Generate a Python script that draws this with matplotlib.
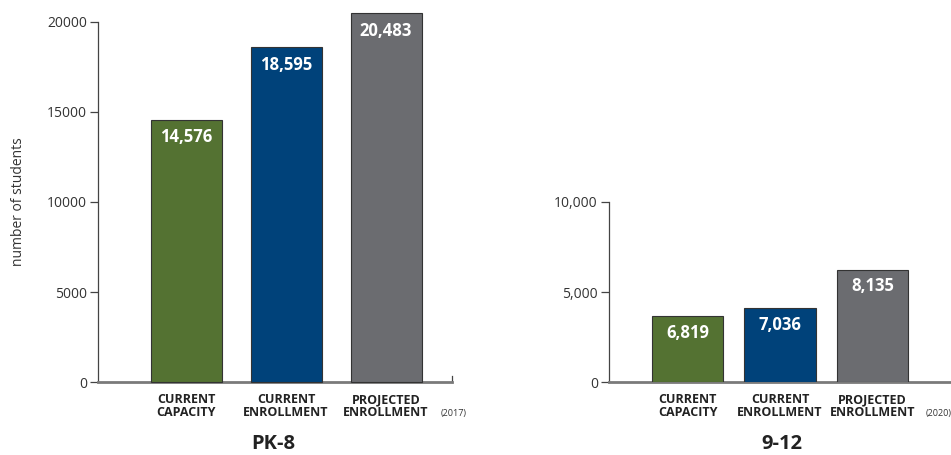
import matplotlib
matplotlib.use("Agg")
import matplotlib.pyplot as plt

# ---- data ----
categories = ["CURRENT\nCAPACITY", "CURRENT\nENROLLMENT", "PROJECTED\nENROLLMENT"]
pk8_values = [14576, 18595, 20483]
pk8_year = "(2017)"
hs_heights = [3650, 4100, 6250]          # bar heights as drawn in the picture
hs_labels = ["6,819", "7,036", "8,135"]  # printed values
hs_year = "(2020)"
pk8_ticks = [0, 5000, 10000, 15000, 20000]
pk8_ticklabels = ["0", "5000", "10000", "15000", "20000"]
hs_ticks = [0, 5000, 10000]
hs_ticklabels = ["0", "5,000", "10,000"]
colors = ["#547232", "#00427a", "#6b6c70"]

plt.rcParams['font.family'] = ['Open Sans', 'DejaVu Sans']

W, H = 951, 455
fig = plt.figure(figsize=(W / 100, H / 100), dpi=100)

def px_axes(x0, x1, ytop, ybot):
    return fig.add_axes([x0 / W, 1 - ybot / H, (x1 - x0) / W, (ybot - ytop) / H])

ax1 = px_axes(98, 452, 22, 382)
ax2 = px_axes(609, 951, 202, 382)

def style(ax, xlim, ylim, ticks, ticklabels):
    ax.set_xlim(*xlim)
    ax.set_ylim(*ylim)
    for s in ["top", "right"]:
        ax.spines[s].set_visible(False)
    ax.spines["left"].set_color("#444444")
    ax.spines["left"].set_linewidth(0.9)
    ax.spines["bottom"].set_color("#7a7a7a")
    ax.spines["bottom"].set_linewidth(2.0)
    ax.set_yticks(ticks)
    ax.set_yticklabels(ticklabels, fontsize=10, color="#333333")
    ax.tick_params(axis="y", length=6, width=0.9, color="#444444", pad=2)
    ax.set_xticks(range(len(categories)))
    ax.set_xticklabels(categories, fontsize=9, fontweight="bold", color="#222222",
                       linespacing=0.95)
    ax.tick_params(axis="x", length=0, pad=8)
    ax.patch.set_alpha(0)

xs = list(range(len(categories)))

# ---- PK-8 ----
style(ax1, (-0.88, 2.66), (0, 20000), pk8_ticks, pk8_ticklabels)
ax1.bar(xs, pk8_values, width=0.71, color=colors, edgecolor="#333333",
        linewidth=0.8, clip_on=False, zorder=3)
for x, v in zip(xs, pk8_values):
    ax1.annotate(f"{v:,}", (x, v), xytext=(0, -12.5), textcoords="offset points",
                 ha="center", va="center", color="white", fontsize=12,
                 fontweight="bold", zorder=4, annotation_clip=False)
ax1.annotate(pk8_year, (2, 0), xytext=(49, -22.5), textcoords="offset points",
             ha="center", va="center", fontsize=6.5, color="#333333",
             annotation_clip=False)
ax1.set_ylabel("number of students", fontsize=10, color="#333333", labelpad=15)
# small upward tick at right end of x-axis
ax1.plot([1, 1], [0, 0.018], transform=ax1.transAxes, color="#444444",
         lw=0.9, clip_on=False)
ax1.text(0.495, -0.172, "PK-8", transform=ax1.transAxes, ha="center", va="center",
         fontsize=14.5, fontweight="bold", color="#222222")

# ---- 9-12 ----
style(ax2, (-0.85, 2.85), (0, 10000), hs_ticks, hs_ticklabels)
ax2.bar(xs, hs_heights, width=0.77, color=colors, edgecolor="#333333",
        linewidth=0.8, zorder=3)
for x, v, lab in zip(xs, hs_heights, hs_labels):
    ax2.annotate(lab, (x, v), xytext=(0, -12), textcoords="offset points",
                 ha="center", va="center", color="white", fontsize=12,
                 fontweight="bold", zorder=4)
ax2.annotate(hs_year, (2, 0), xytext=(48, -22.5), textcoords="offset points",
             ha="center", va="center", fontsize=6.5, color="#333333",
             annotation_clip=False)
ax2.text(0.505, -0.344, "9-12", transform=ax2.transAxes, ha="center", va="center",
         fontsize=14.5, fontweight="bold", color="#222222")

fig.savefig("out.png", dpi=100)
